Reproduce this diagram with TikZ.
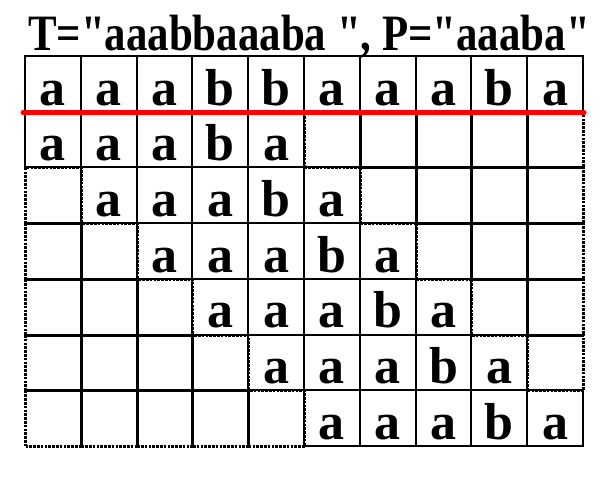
\documentclass[tikz,border=0pt]{standalone}
\usepackage{fontspec}
\setmainfont{Liberation Serif}
\newfontfamily\titlefont{Liberation Serif}
\begin{document}
\begin{tikzpicture}[x=1pt,y=-1pt,
  cellbox/.style={draw=black,line width=2pt,minimum width=55.8pt,minimum height=55.7pt,inner sep=0pt,anchor=north west},
  emptybox/.style={draw=black,line width=3pt,dash pattern=on 2.6pt off 1.2pt,minimum width=55.8pt,minimum height=55.7pt,inner sep=0pt,anchor=north west},
  letter/.style={font=\fontsize{52}{52}\selectfont\bfseries,inner sep=0pt,anchor=base},
  redline/.style={draw=red,line width=5pt,line cap=round}]
\useasboundingbox (0,0) rectangle (607,479);
\fill[white] (0,0) rectangle (607,479);
\node[anchor=base,inner sep=0pt] (title) at (309,50) {\scalebox{0.84}[1]{\titlefont\fontsize{51}{51}\selectfont\bfseries T="aaabbaaaba ", P="aaaba"}};
% empty (dashed) cells
\foreach \r in {1,...,6}{
  \foreach \k in {0,...,9}{
    \pgfmathtruncatemacro{\s}{\r-1}
    \pgfmathtruncatemacro{\e}{\r+3}
    \ifnum\k<\s
      \node[emptybox] (e-\r-\k) at ({24+55.8*\k},{55+55.7*\r}) {};
    \fi
    \ifnum\k>\e
      \node[emptybox] (e-\r-\k) at ({24+55.8*\k},{55+55.7*\r}) {};
    \fi
  }
}
% text row
\foreach \ch [count=\i from 0] in {a,a,a,b,b,a,a,a,b,a}{
  \node[cellbox] (c-0-\i) at ({24+55.8*\i},55) {};
  \node[letter] (l-0-\i) at ([yshift=7.7pt]c-0-\i.south) {\ch};
}
% pattern rows
\foreach \r in {1,...,6}{
  \foreach \ch [count=\j from 0] in {a,a,a,b,a}{
    \pgfmathtruncatemacro{\k}{\r-1+\j}
    \node[cellbox] (c-\r-\k) at ({24+55.8*\k},{55+55.7*\r}) {};
    \node[letter] (l-\r-\k) at ([yshift=7.7pt]c-\r-\k.south) {\ch};
  }
}
\draw[redline] ([xshift=-1pt]c-0-0.south west) -- (c-0-9.south east);
\end{tikzpicture}
\end{document}
